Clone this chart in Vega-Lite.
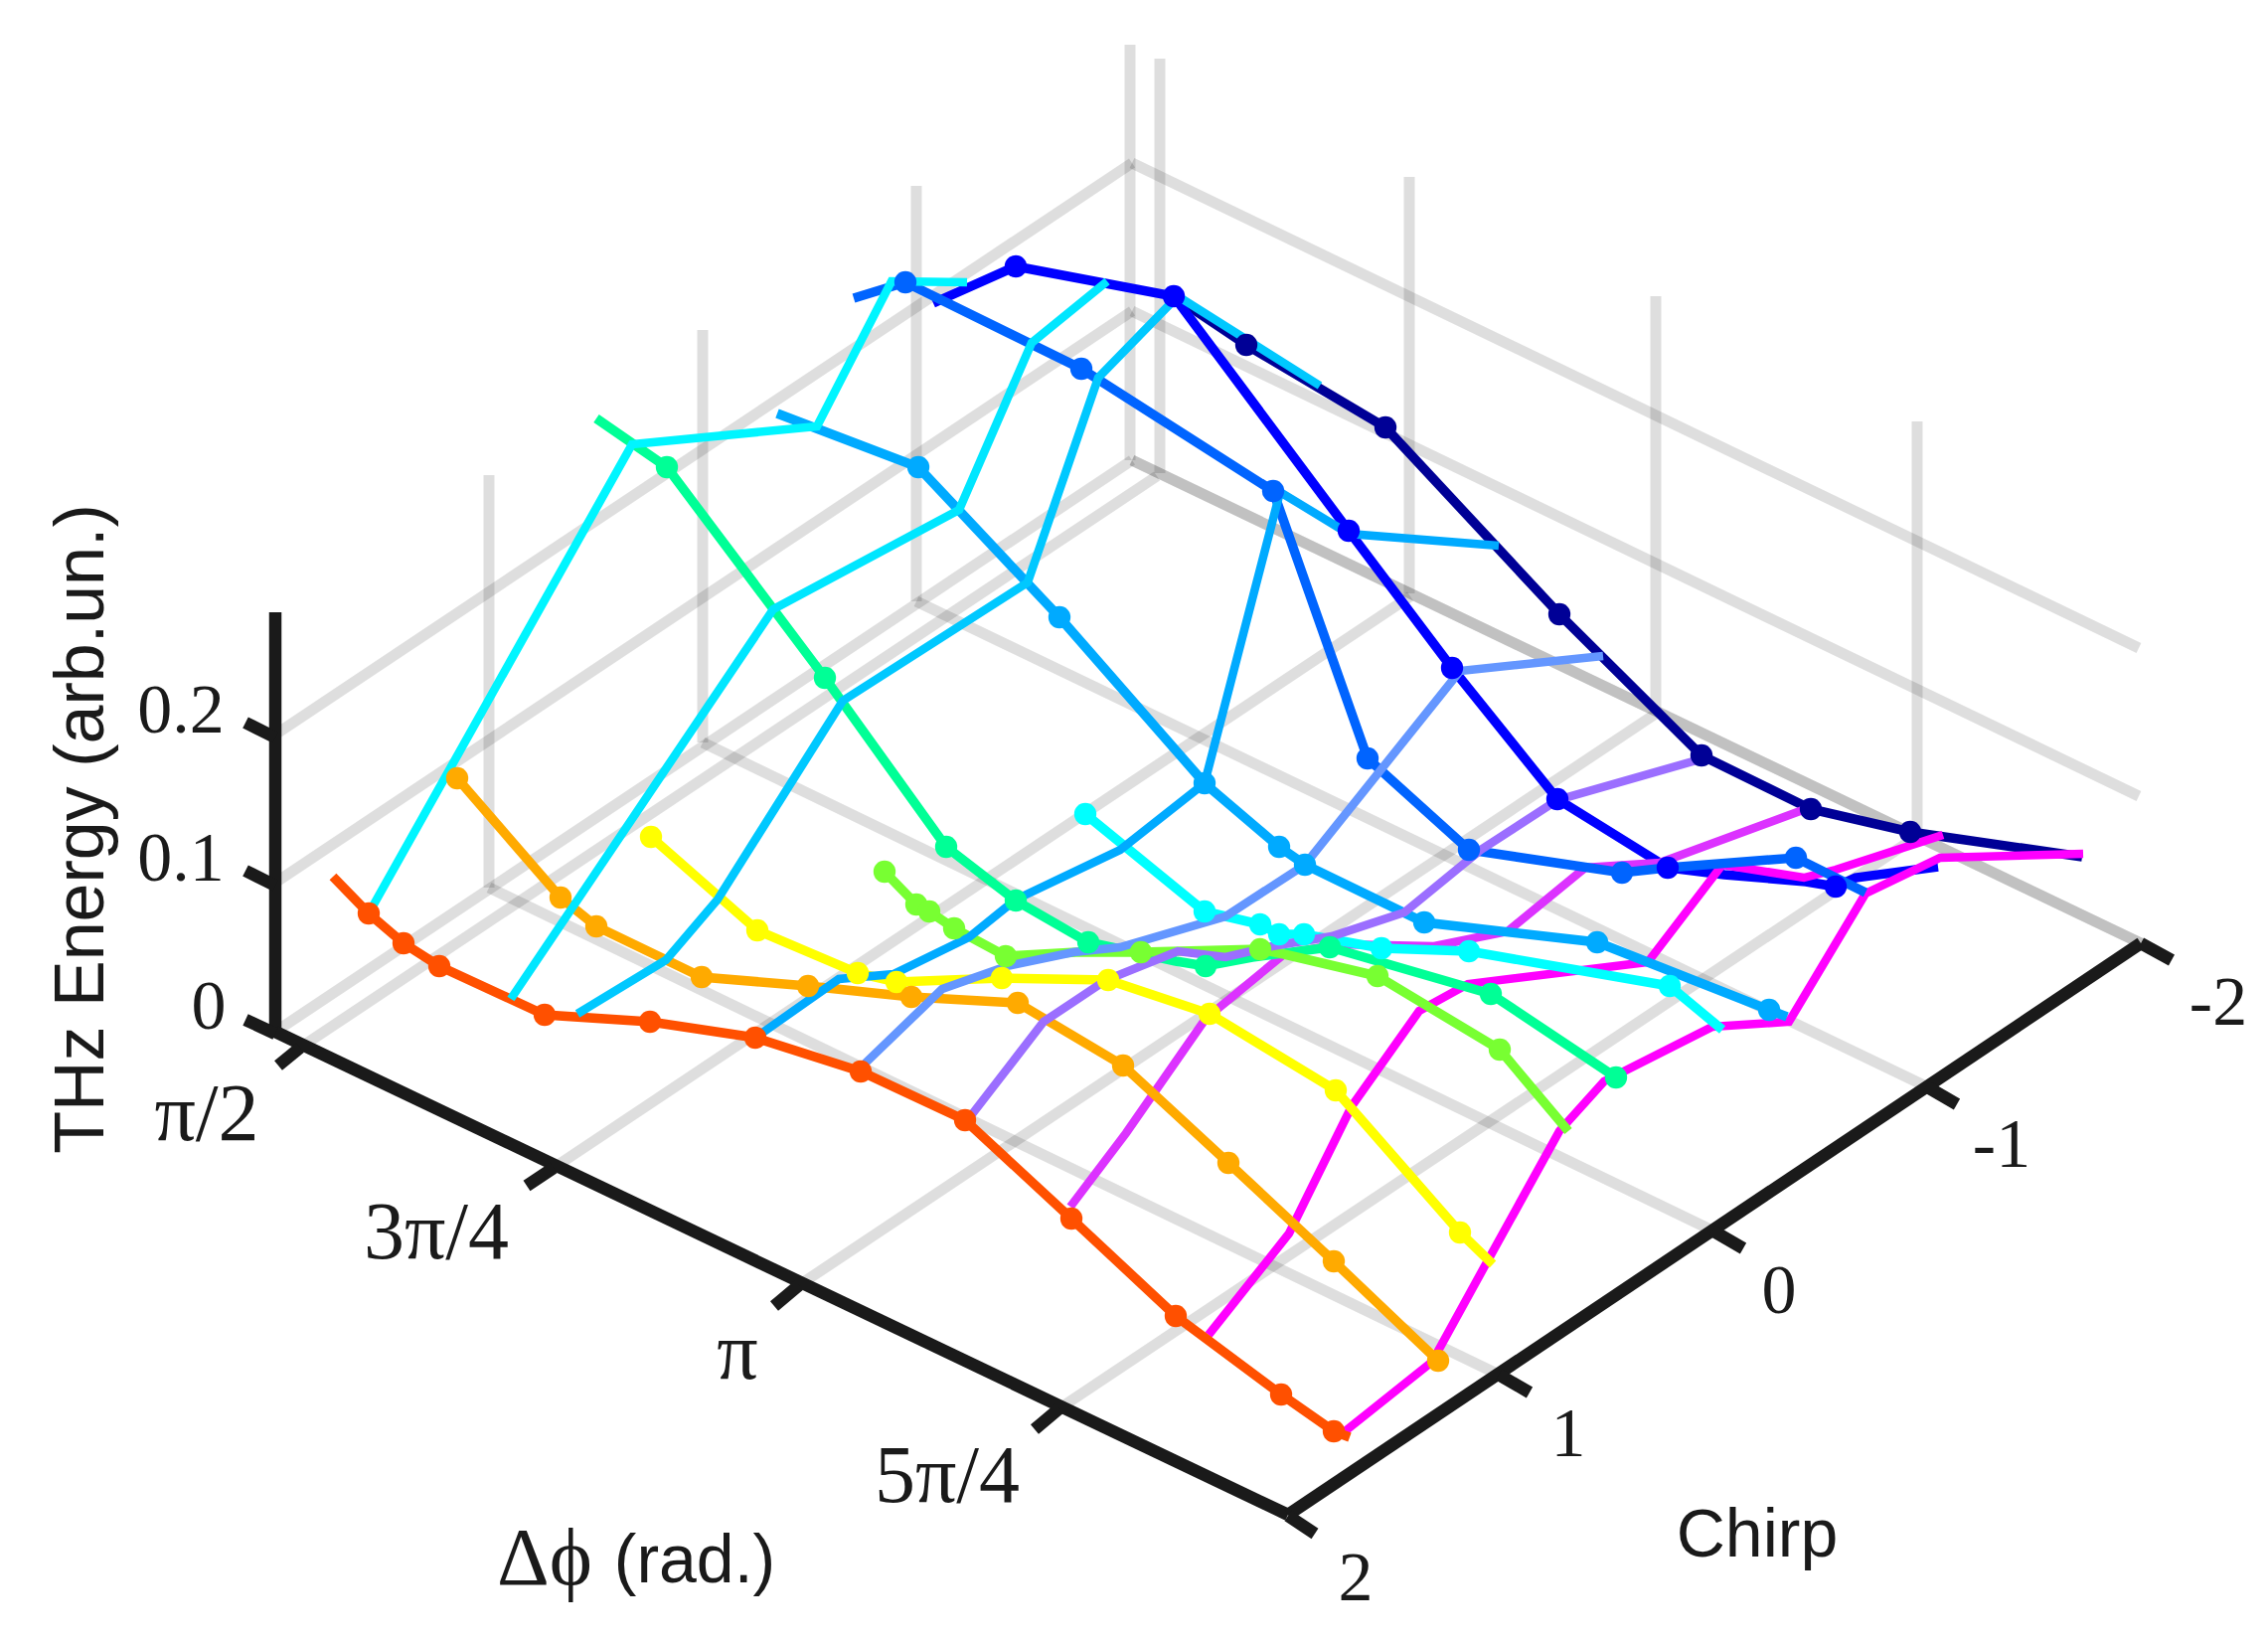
{
  "$schema": "https://vega.github.io/schema/vega-lite/v6.json",
  "description": "THz energy against phase difference and chirp, projected 3D mesh",
  "autosize": {"type": "fit", "contains": "padding"},
  "width": 2282,
  "height": 1651,
  "padding": 0,
  "background": "white",
  "config": {"view": {"stroke": null}},
  "datasets": {
    "grid": [
      {"x":277,"y":1038,"x2":1139,"y2":463},{"x":302,"y":1054,"x2":1164,"y2":479},{"x":557,"y":1175,"x2":1419,"y2":600},{"x":804,"y":1293,"x2":1666,"y2":718},{"x":1066,"y":1417,"x2":1928,"y2":842},
      {"x":1508,"y":1383,"x2":492,"y2":893},{"x":1723,"y":1238,"x2":707,"y2":747},{"x":1938,"y":1093,"x2":922,"y2":605},{"x":2154,"y":949,"x2":1139,"y2":463},{"x":2154,"y":949,"x2":1139,"y2":463},
      {"x":277,"y":888,"x2":1139,"y2":313},{"x":277,"y":739,"x2":1139,"y2":164},{"x":1139,"y":313,"x2":2152,"y2":801},{"x":1139,"y":164,"x2":2152,"y2":652},
      {"x":492,"y":893,"x2":492,"y2":478},{"x":707,"y":747,"x2":707,"y2":332},{"x":922,"y":605,"x2":922,"y2":187},{"x":1137,"y":463,"x2":1137,"y2":45},
      {"x":1167,"y":476,"x2":1167,"y2":59},{"x":1418,"y":597,"x2":1418,"y2":178},{"x":1666,"y":718,"x2":1666,"y2":298},{"x":1929,"y":842,"x2":1929,"y2":424}
    ],
    "axes": [
      {"x":277,"y":616,"x2":277,"y2":1038},{"x":277,"y":1038,"x2":1296,"y2":1524},{"x":1296,"y":1524,"x2":2154,"y2":949},
      {"x":247,"y":1026,"x2":277,"y2":1040},{"x":247,"y":876,"x2":277,"y2":891},{"x":247,"y":727,"x2":277,"y2":742},
      {"x":302,"y":1054,"x2":280,"y2":1072},{"x":557,"y":1175,"x2":530,"y2":1193},{"x":804,"y":1293,"x2":779,"y2":1314},{"x":1066,"y":1417,"x2":1041,"y2":1438},
      {"x":2154,"y":949,"x2":2185,"y2":966},{"x":1938,"y":1093,"x2":1969,"y2":1111},{"x":1723,"y":1238,"x2":1754,"y2":1256},{"x":1508,"y":1383,"x2":1539,"y2":1401},{"x":1296,"y":1525,"x2":1323,"y2":1543}
    ],
    "serif": [
      {"label":"0.2","x":182,"y":716},{"label":"0.1","x":182,"y":865},{"label":"0","x":210,"y":1014},
      {"label":"-2","x":2232,"y":1010},{"label":"-1","x":2014,"y":1153},{"label":"0","x":1790,"y":1300},{"label":"1","x":1578,"y":1444},{"label":"2","x":1364,"y":1589}
    ],
    "phase": [
      {"label":"π/2","x":208,"y":1122},{"label":"3π/4","x":439,"y":1241},{"label":"π","x":742,"y":1362},{"label":"5π/4","x":953,"y":1486},{"label":"Δϕ","x":548,"y":1569}
    ],
    "sans": [
      {"label":"(rad.)","x":699,"y":1572},{"label":"Chirp","x":1768,"y":1546}
    ],
    "curves": [
      {"series":"chirp10","idx":0,"x":1181,"y":298,"marker":false},{"series":"chirp10","idx":1,"x":1254,"y":347,"marker":true},{"series":"chirp10","idx":2,"x":1394,"y":430,"marker":true},{"series":"chirp10","idx":3,"x":1569,"y":618,"marker":true},{"series":"chirp10","idx":4,"x":1712,"y":760,"marker":true},{"series":"chirp10","idx":5,"x":1822,"y":814,"marker":true},{"series":"chirp10","idx":6,"x":1922,"y":837,"marker":true},{"series":"chirp10","idx":7,"x":2095,"y":862,"marker":false},

      {"series":"chirp9","idx":0,"x":939,"y":305,"marker":false},{"series":"chirp9","idx":1,"x":1022,"y":268,"marker":true},{"series":"chirp9","idx":2,"x":1181,"y":298,"marker":true},{"series":"chirp9","idx":3,"x":1357,"y":534,"marker":true},{"series":"chirp9","idx":4,"x":1461,"y":672,"marker":true},{"series":"chirp9","idx":5,"x":1567,"y":804,"marker":true},{"series":"chirp9","idx":6,"x":1678,"y":873,"marker":true},{"series":"chirp9","idx":7,"x":1735,"y":880,"marker":false},{"series":"chirp9","idx":8,"x":1817,"y":887,"marker":false},{"series":"chirp9","idx":9,"x":1847,"y":892,"marker":true},{"series":"chirp9","idx":10,"x":1867,"y":883,"marker":false},{"series":"chirp9","idx":11,"x":1950,"y":872,"marker":false},

      {"series":"phase7","idx":0,"x":1077,"y":1214,"marker":false},{"series":"phase7","idx":1,"x":1133,"y":1140,"marker":false},{"series":"phase7","idx":2,"x":1213,"y":1025,"marker":false},{"series":"phase7","idx":3,"x":1292,"y":960,"marker":false},{"series":"phase7","idx":4,"x":1347,"y":950,"marker":false},{"series":"phase7","idx":5,"x":1443,"y":952,"marker":false},{"series":"phase7","idx":6,"x":1517,"y":937,"marker":false},{"series":"phase7","idx":7,"x":1595,"y":873,"marker":false},{"series":"phase7","idx":8,"x":1670,"y":868,"marker":false},{"series":"phase7","idx":9,"x":1822,"y":812,"marker":false},

      {"series":"phase8","idx":0,"x":1216,"y":1343,"marker":false},{"series":"phase8","idx":1,"x":1297,"y":1241,"marker":false},{"series":"phase8","idx":2,"x":1360,"y":1113,"marker":false},{"series":"phase8","idx":3,"x":1428,"y":1017,"marker":false},{"series":"phase8","idx":4,"x":1477,"y":990,"marker":false},{"series":"phase8","idx":5,"x":1658,"y":968,"marker":false},{"series":"phase8","idx":6,"x":1733,"y":870,"marker":false},{"series":"phase8","idx":7,"x":1815,"y":883,"marker":false},{"series":"phase8","idx":8,"x":1847,"y":875,"marker":false},{"series":"phase8","idx":9,"x":1955,"y":840,"marker":false},

      {"series":"phase9","idx":0,"x":1352,"y":1441,"marker":false},{"series":"phase9","idx":1,"x":1441,"y":1370,"marker":false},{"series":"phase9","idx":2,"x":1496,"y":1270,"marker":false},{"series":"phase9","idx":3,"x":1569,"y":1138,"marker":false},{"series":"phase9","idx":4,"x":1614,"y":1088,"marker":false},{"series":"phase9","idx":5,"x":1723,"y":1033,"marker":false},{"series":"phase9","idx":6,"x":1800,"y":1028,"marker":false},{"series":"phase9","idx":7,"x":1877,"y":899,"marker":false},{"series":"phase9","idx":8,"x":1952,"y":863,"marker":false},{"series":"phase9","idx":9,"x":2096,"y":859,"marker":false},

      {"series":"chirp8","idx":0,"x":859,"y":300,"marker":false},{"series":"chirp8","idx":1,"x":911,"y":284,"marker":true},{"series":"chirp8","idx":2,"x":1088,"y":371,"marker":true},{"series":"chirp8","idx":3,"x":1281,"y":494,"marker":true},{"series":"chirp8","idx":4,"x":1376,"y":763,"marker":true},{"series":"chirp8","idx":5,"x":1478,"y":855,"marker":true},{"series":"chirp8","idx":6,"x":1632,"y":878,"marker":true},{"series":"chirp8","idx":7,"x":1678,"y":873,"marker":false},{"series":"chirp8","idx":8,"x":1807,"y":863,"marker":true},{"series":"chirp8","idx":9,"x":1877,"y":898,"marker":false},

      {"series":"chirp7","idx":0,"x":782,"y":416,"marker":false},{"series":"chirp7","idx":1,"x":924,"y":470,"marker":true},{"series":"chirp7","idx":2,"x":1066,"y":621,"marker":true},{"series":"chirp7","idx":3,"x":1212,"y":788,"marker":true},{"series":"chirp7","idx":4,"x":1287,"y":852,"marker":true},{"series":"chirp7","idx":5,"x":1313,"y":870,"marker":true},{"series":"chirp7","idx":6,"x":1433,"y":928,"marker":true},{"series":"chirp7","idx":7,"x":1607,"y":948,"marker":true},{"series":"chirp7","idx":8,"x":1780,"y":1016,"marker":true},{"series":"chirp7","idx":9,"x":1798,"y":1023,"marker":false},

      {"series":"chirp6","idx":0,"x":1092,"y":819,"marker":true},{"series":"chirp6","idx":1,"x":1212,"y":917,"marker":true},{"series":"chirp6","idx":2,"x":1268,"y":930,"marker":true},{"series":"chirp6","idx":3,"x":1287,"y":940,"marker":true},{"series":"chirp6","idx":4,"x":1312,"y":940,"marker":true},{"series":"chirp6","idx":5,"x":1390,"y":954,"marker":true},{"series":"chirp6","idx":6,"x":1478,"y":957,"marker":true},{"series":"chirp6","idx":7,"x":1680,"y":992,"marker":true},{"series":"chirp6","idx":8,"x":1733,"y":1036,"marker":false},

      {"series":"chirp5","idx":0,"x":600,"y":421,"marker":false},{"series":"chirp5","idx":1,"x":671,"y":470,"marker":true},{"series":"chirp5","idx":2,"x":830,"y":682,"marker":true},{"series":"chirp5","idx":3,"x":952,"y":852,"marker":true},{"series":"chirp5","idx":4,"x":1022,"y":906,"marker":true},{"series":"chirp5","idx":5,"x":1095,"y":948,"marker":true},{"series":"chirp5","idx":6,"x":1183,"y":967,"marker":false},{"series":"chirp5","idx":7,"x":1213,"y":972,"marker":true},{"series":"chirp5","idx":8,"x":1260,"y":963,"marker":false},{"series":"chirp5","idx":9,"x":1338,"y":953,"marker":true},{"series":"chirp5","idx":10,"x":1500,"y":1000,"marker":true},{"series":"chirp5","idx":11,"x":1626,"y":1084,"marker":true},

      {"series":"chirp4","idx":0,"x":890,"y":877,"marker":true},{"series":"chirp4","idx":1,"x":922,"y":910,"marker":true},{"series":"chirp4","idx":2,"x":935,"y":917,"marker":true},{"series":"chirp4","idx":3,"x":960,"y":934,"marker":true},{"series":"chirp4","idx":4,"x":1012,"y":962,"marker":true},{"series":"chirp4","idx":5,"x":1083,"y":958,"marker":false},{"series":"chirp4","idx":6,"x":1148,"y":958,"marker":true},{"series":"chirp4","idx":7,"x":1268,"y":955,"marker":true},{"series":"chirp4","idx":8,"x":1292,"y":960,"marker":false},{"series":"chirp4","idx":9,"x":1386,"y":982,"marker":true},{"series":"chirp4","idx":10,"x":1509,"y":1056,"marker":true},{"series":"chirp4","idx":11,"x":1578,"y":1138,"marker":false},

      {"series":"chirp3","idx":0,"x":655,"y":842,"marker":true},{"series":"chirp3","idx":1,"x":762,"y":936,"marker":true},{"series":"chirp3","idx":2,"x":863,"y":979,"marker":true},{"series":"chirp3","idx":3,"x":902,"y":988,"marker":true},{"series":"chirp3","idx":4,"x":1008,"y":984,"marker":true},{"series":"chirp3","idx":5,"x":1115,"y":986,"marker":true},{"series":"chirp3","idx":6,"x":1217,"y":1020,"marker":true},{"series":"chirp3","idx":7,"x":1344,"y":1097,"marker":true},{"series":"chirp3","idx":8,"x":1469,"y":1240,"marker":true},{"series":"chirp3","idx":9,"x":1502,"y":1272,"marker":false},

      {"series":"chirp2","idx":0,"x":460,"y":783,"marker":true},{"series":"chirp2","idx":1,"x":564,"y":903,"marker":true},{"series":"chirp2","idx":2,"x":600,"y":932,"marker":true},{"series":"chirp2","idx":3,"x":706,"y":983,"marker":true},{"series":"chirp2","idx":4,"x":813,"y":992,"marker":true},{"series":"chirp2","idx":5,"x":917,"y":1003,"marker":true},{"series":"chirp2","idx":6,"x":1024,"y":1009,"marker":true},{"series":"chirp2","idx":7,"x":1130,"y":1072,"marker":true},{"series":"chirp2","idx":8,"x":1236,"y":1170,"marker":true},{"series":"chirp2","idx":9,"x":1342,"y":1269,"marker":true},{"series":"chirp2","idx":10,"x":1447,"y":1369,"marker":true},

      {"series":"chirp1","idx":0,"x":335,"y":882,"marker":false},{"series":"chirp1","idx":1,"x":371,"y":919,"marker":true},{"series":"chirp1","idx":2,"x":406,"y":949,"marker":true},{"series":"chirp1","idx":3,"x":442,"y":972,"marker":true},{"series":"chirp1","idx":4,"x":548,"y":1021,"marker":true},{"series":"chirp1","idx":5,"x":654,"y":1028,"marker":true},{"series":"chirp1","idx":6,"x":760,"y":1044,"marker":true},{"series":"chirp1","idx":7,"x":866,"y":1078,"marker":true},{"series":"chirp1","idx":8,"x":971,"y":1127,"marker":true},{"series":"chirp1","idx":9,"x":1078,"y":1226,"marker":true},{"series":"chirp1","idx":10,"x":1183,"y":1324,"marker":true},{"series":"chirp1","idx":11,"x":1289,"y":1403,"marker":true},{"series":"chirp1","idx":12,"x":1342,"y":1440,"marker":true},{"series":"chirp1","idx":13,"x":1358,"y":1446,"marker":false},

      {"series":"phase1","idx":0,"x":371,"y":919,"marker":false},{"series":"phase1","idx":1,"x":636,"y":447,"marker":false},{"series":"phase1","idx":2,"x":822,"y":429,"marker":false},{"series":"phase1","idx":3,"x":897,"y":283,"marker":false},{"series":"phase1","idx":4,"x":973,"y":284,"marker":false},

      {"series":"phase2","idx":0,"x":514,"y":1005,"marker":false},{"series":"phase2","idx":1,"x":778,"y":613,"marker":false},{"series":"phase2","idx":2,"x":965,"y":513,"marker":false},{"series":"phase2","idx":3,"x":1038,"y":345,"marker":false},{"series":"phase2","idx":4,"x":1114,"y":283,"marker":false},

      {"series":"phase3","idx":0,"x":581,"y":1020,"marker":false},{"series":"phase3","idx":1,"x":670,"y":966,"marker":false},{"series":"phase3","idx":2,"x":722,"y":905,"marker":false},{"series":"phase3","idx":3,"x":848,"y":705,"marker":false},{"series":"phase3","idx":4,"x":1034,"y":586,"marker":false},{"series":"phase3","idx":5,"x":1105,"y":380,"marker":false},{"series":"phase3","idx":6,"x":1185,"y":298,"marker":false},{"series":"phase3","idx":7,"x":1328,"y":388,"marker":false},

      {"series":"phase4","idx":0,"x":760,"y":1044,"marker":false},{"series":"phase4","idx":1,"x":844,"y":985,"marker":false},{"series":"phase4","idx":2,"x":899,"y":980,"marker":false},{"series":"phase4","idx":3,"x":975,"y":943,"marker":false},{"series":"phase4","idx":4,"x":1022,"y":905,"marker":false},{"series":"phase4","idx":5,"x":1127,"y":855,"marker":false},{"series":"phase4","idx":6,"x":1212,"y":788,"marker":false},{"series":"phase4","idx":7,"x":1288,"y":495,"marker":false},{"series":"phase4","idx":8,"x":1357,"y":537,"marker":false},{"series":"phase4","idx":9,"x":1508,"y":549,"marker":false},

      {"series":"phase5","idx":0,"x":864,"y":1076,"marker":false},{"series":"phase5","idx":1,"x":948,"y":995,"marker":false},{"series":"phase5","idx":2,"x":1013,"y":972,"marker":false},{"series":"phase5","idx":3,"x":1080,"y":958,"marker":false},{"series":"phase5","idx":4,"x":1127,"y":953,"marker":false},{"series":"phase5","idx":5,"x":1233,"y":922,"marker":false},{"series":"phase5","idx":6,"x":1313,"y":870,"marker":false},{"series":"phase5","idx":7,"x":1469,"y":675,"marker":false},{"series":"phase5","idx":8,"x":1613,"y":660,"marker":false},

      {"series":"phase6","idx":0,"x":975,"y":1125,"marker":false},{"series":"phase6","idx":1,"x":1050,"y":1028,"marker":false},{"series":"phase6","idx":2,"x":1113,"y":986,"marker":false},{"series":"phase6","idx":3,"x":1185,"y":957,"marker":false},{"series":"phase6","idx":4,"x":1233,"y":963,"marker":false},{"series":"phase6","idx":5,"x":1280,"y":952,"marker":false},{"series":"phase6","idx":6,"x":1340,"y":942,"marker":false},{"series":"phase6","idx":7,"x":1413,"y":918,"marker":false},{"series":"phase6","idx":8,"x":1490,"y":855,"marker":false},{"series":"phase6","idx":9,"x":1567,"y":805,"marker":false},{"series":"phase6","idx":10,"x":1714,"y":763,"marker":false}
    ]
  },
  "layer": [
    {
      "data": {"name": "grid"},
      "mark": {"type": "rule", "color": "#000000", "opacity": 0.13, "strokeWidth": 11},
      "encoding": {
        "x": {"field": "x", "type": "quantitative", "scale": {"domain": [0, 2282]}, "axis": null},
        "y": {"field": "y", "type": "quantitative", "scale": {"domain": [1651, 0]}, "axis": null},
        "x2": {"field": "x2"},
        "y2": {"field": "y2"}
      }
    },
    {
      "data": {"name": "axes"},
      "mark": {"type": "rule", "color": "#1a1a1a", "strokeWidth": 12.5},
      "encoding": {
        "x": {"field": "x", "type": "quantitative", "scale": {"domain": [0, 2282]}, "axis": null},
        "y": {"field": "y", "type": "quantitative", "scale": {"domain": [1651, 0]}, "axis": null},
        "x2": {"field": "x2"},
        "y2": {"field": "y2"}
      }
    },
    {
      "data": {"name": "curves"},
      "mark": {"type": "line", "strokeJoin": "miter"},
      "encoding": {
        "x": {"field": "x", "type": "quantitative", "scale": {"domain": [0, 2282]}, "axis": null},
        "y": {"field": "y", "type": "quantitative", "scale": {"domain": [1651, 0]}, "axis": null},
        "order": {"field": "idx"},
        "strokeWidth": {"condition": {"test": "indexof(datum.series, 'phase') == 0", "value": 8.5}, "value": 9.5},
        "color": {
          "field": "series",
          "type": "nominal",
          "legend": null,
          "scale": {
            "domain": ["chirp1","chirp2","chirp3","chirp4","chirp5","chirp6","chirp7","chirp8","chirp9","chirp10","phase1","phase2","phase3","phase4","phase5","phase6","phase7","phase8","phase9"],
            "range": ["#ff5000","#ffaa00","#ffff00","#78ff32","#00ff96","#00ffff","#00aaff","#0064ff","#0000ff","#000096","#00f5ff","#00e6ff","#00c8ff","#00aaff","#6496ff","#9b6eff","#dc32ff","#ff00ff","#ff00ff"]
          }
        }
      }
    },
    {
      "data": {"name": "curves"},
      "transform": [{"filter": "datum.marker"}],
      "mark": {"type": "circle", "size": 500, "opacity": 1},
      "encoding": {
        "x": {"field": "x", "type": "quantitative", "scale": {"domain": [0, 2282]}, "axis": null},
        "y": {"field": "y", "type": "quantitative", "scale": {"domain": [1651, 0]}, "axis": null},
        "color": {"field": "series", "type": "nominal", "legend": null}
      }
    },
    {
      "data": {"name": "serif"},
      "mark": {"type": "text", "font": "Liberation Serif", "fontSize": 70, "color": "#1a1a1a", "align": "center", "baseline": "middle"},
      "encoding": {
        "x": {"field": "x", "type": "quantitative", "scale": {"domain": [0, 2282]}, "axis": null},
        "y": {"field": "y", "type": "quantitative", "scale": {"domain": [1651, 0]}, "axis": null},
        "text": {"field": "label"}
      }
    },
    {
      "data": {"name": "phase"},
      "mark": {"type": "text", "font": "Liberation Serif", "fontSize": 82, "color": "#1a1a1a", "align": "center", "baseline": "middle"},
      "encoding": {
        "x": {"field": "x", "type": "quantitative", "scale": {"domain": [0, 2282]}, "axis": null},
        "y": {"field": "y", "type": "quantitative", "scale": {"domain": [1651, 0]}, "axis": null},
        "text": {"field": "label"}
      }
    },
    {
      "data": {"name": "sans"},
      "mark": {"type": "text", "font": "Liberation Sans", "fontSize": 68, "color": "#1a1a1a", "align": "center", "baseline": "middle"},
      "encoding": {
        "x": {"field": "x", "type": "quantitative", "scale": {"domain": [0, 2282]}, "axis": null},
        "y": {"field": "y", "type": "quantitative", "scale": {"domain": [1651, 0]}, "axis": null},
        "text": {"field": "label"}
      }
    },
    {
      "data": {"values": [{"label": "THz Energy (arb.un.)", "x": 83, "y": 834}]},
      "mark": {"type": "text", "font": "Liberation Sans", "fontSize": 70, "angle": 270, "color": "#1a1a1a", "align": "center", "baseline": "middle"},
      "encoding": {
        "x": {"field": "x", "type": "quantitative", "scale": {"domain": [0, 2282]}, "axis": null},
        "y": {"field": "y", "type": "quantitative", "scale": {"domain": [1651, 0]}, "axis": null},
        "text": {"field": "label"}
      }
    }
  ],
  "resolve": {"scale": {"color": "shared"}}
}
